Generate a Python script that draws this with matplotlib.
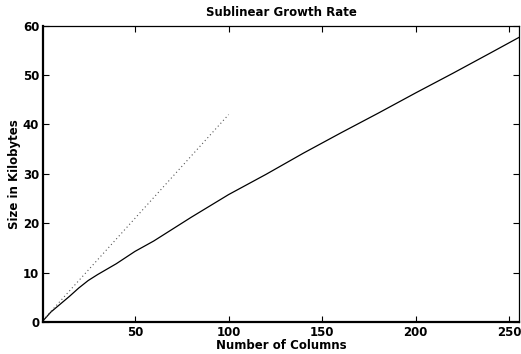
import matplotlib
matplotlib.use("Agg")
import matplotlib.pyplot as plt

# Data
cols = [1, 5, 10, 15, 20, 25, 30, 40, 50, 60, 70, 80, 90, 100,
        120, 140, 160, 180, 200, 220, 240, 255]
size_kb = [0.3, 2.0, 3.6, 5.2, 6.9, 8.4, 9.6, 11.8, 14.3, 16.4, 18.8, 21.2, 23.5, 25.8,
           29.9, 34.2, 38.3, 42.3, 46.4, 50.4, 54.5, 57.6]
linear_cols = [1, 100]
linear_kb = [0.42, 42.0]

xticks = [50, 100, 150, 200, 250]
yticks = [0, 10, 20, 30, 40, 50, 60]

plt.rcParams['font.family'] = ['DejaVu Sans']
plt.rcParams['font.weight'] = 'bold'

fs = 8.5

fig = plt.figure(figsize=(5.21, 3.54), dpi=100)
ax = fig.add_axes([0.0831, 0.0904, 0.9125, 0.837])

ax.plot(cols, size_kb, color='black', linewidth=0.9)
ax.plot(linear_cols, linear_kb, color='#555555', linestyle=(0, (1, 2.5)), linewidth=0.8)

ax.set_xlim(1, 255)
ax.set_ylim(0, 60)
ax.set_xticks(xticks)
ax.set_yticks(yticks)
ax.tick_params(direction='in', length=4, width=0.8, top=True, right=True,
               labelsize=fs, pad=3)
for lbl in ax.get_xticklabels() + ax.get_yticklabels():
    lbl.set_fontweight('bold')

ax.spines['bottom'].set_linewidth(1.6)
ax.spines['left'].set_linewidth(1.6)
ax.spines['top'].set_linewidth(0.9)
ax.spines['right'].set_linewidth(0.9)

ax.set_title('Sublinear Growth Rate', fontsize=fs, fontweight='bold', pad=7)
ax.set_xlabel('Number of Columns', fontsize=fs, fontweight='bold', labelpad=0)
ax.set_ylabel('Size in Kilobytes', fontsize=fs, fontweight='bold', labelpad=1)

fig.savefig('out.png', dpi=100)
